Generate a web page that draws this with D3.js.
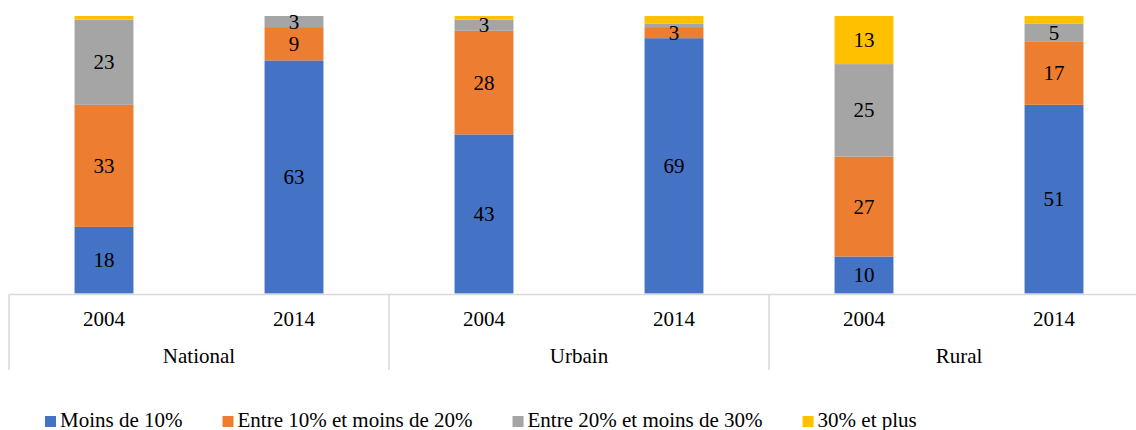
<!DOCTYPE html>
<html>
<head>
<meta charset="utf-8">
<title>Taux par milieu</title>
<script src="https://d3js.org/d3.v7.min.js"></script>
<style>
  body { margin: 0; background: #fff; }
  svg text { font-family: "Liberation Serif", "Times New Roman", serif; fill: #000; }
</style>
</head>
<body>
<div id="chart"></div>
<script>
var svg_width = 1136, svg_height = 430;

// data
var groups = ["National", "Urbain", "Rural"];
var years = ["2004", "2014"];
var series = ["Moins de 10%", "Entre 10% et moins de 20%", "Entre 20% et moins de 30%", "30% et plus"];
var colors = ["#4472C4", "#ED7D31", "#A5A5A5", "#FFC000"];
// one value per bar: National 2004, National 2014, Urbain 2004, Urbain 2014, Rural 2004, Rural 2014
var moins10 = [18, 63, 43, 69, 10, 51];
var entre10_20 = [33, 9, 28, 3, 27, 17];
var entre20_30 = [23, 3, 3, 1, 25, 5];
var plus30 = [1, 0, 1, 2, 13, 2];

var values = [moins10, entre10_20, entre20_30, plus30];
var bars = [];
groups.forEach(function(g, gi) {
  years.forEach(function(y, yi) {
    var i = gi * years.length + yi;
    var row = { key: g + "|" + y, group: g, year: y };
    series.forEach(function(s, si) { row[s] = values[si][i]; });
    bars.push(row);
  });
});

var plot_left = 9, plot_right = 1149, plot_top = 16, plot_bottom = 293.5;

var svg = d3.select("#chart").append("svg")
  .attr("width", svg_width)
  .attr("height", svg_height);

var x = d3.scaleBand()
  .domain(bars.map(function(d) { return d.key; }))
  .range([plot_left, plot_right])
  .paddingInner(0.69)
  .paddingOuter(0.345);

var xg = d3.scaleBand()
  .domain(groups)
  .range([plot_left, plot_right]);

var y = d3.scaleLinear()
  .domain([0, 75])
  .range([plot_bottom, plot_top]);

var stack = d3.stack().keys(series);
var layers = stack(bars);

var layer = svg.selectAll(".layer")
  .data(layers)
  .enter().append("g")
  .attr("class", "layer")
  .attr("fill", function(d, i) { return colors[i]; });

layer.selectAll("rect")
  .data(function(d) { return d; })
  .enter().append("rect")
  .attr("x", function(d) { return x(d.data.key); })
  .attr("width", x.bandwidth())
  .attr("y", function(d) { return y(d[1]); })
  .attr("height", function(d) { return y(d[0]) - y(d[1]); });

// value labels (small slices have none)
var labels = svg.append("g").attr("class", "labels");
layers.forEach(function(l) {
  labels.selectAll(null)
    .data(l.filter(function(p) { return p[1] - p[0] >= 3; }))
    .enter().append("text")
    .attr("x", function(d) { return x(d.data.key) + x.bandwidth() / 2; })
    .attr("y", function(d) { return (y(d[0]) + y(d[1])) / 2; })
    .attr("text-anchor", "middle")
    .attr("dominant-baseline", "central")
    .style("font-size", "21px")
    .text(function(d) { return d[1] - d[0]; });
});

// category axis with two levels
var axis = svg.append("g").attr("class", "axis");
axis.append("line")
  .attr("x1", plot_left).attr("x2", plot_right)
  .attr("y1", 294.5).attr("y2", 294.5)
  .attr("stroke", "#d9d9d9")
  .attr("stroke-width", 1.5);

var seps = groups.map(function(g) { return xg(g); }).concat([plot_right]);
axis.selectAll(".sep")
  .data(seps)
  .enter().append("line")
  .attr("class", "sep")
  .attr("x1", function(d) { return d; }).attr("x2", function(d) { return d; })
  .attr("y1", 294.5).attr("y2", 370)
  .attr("stroke", "#d9d9d9")
  .attr("stroke-width", 1.5);

axis.selectAll(".year")
  .data(bars)
  .enter().append("text")
  .attr("class", "year")
  .attr("x", function(d) { return x(d.key) + x.bandwidth() / 2; })
  .attr("y", 326)
  .attr("text-anchor", "middle")
  .style("font-size", "21px")
  .text(function(d) { return d.year; });

axis.selectAll(".grp")
  .data(groups)
  .enter().append("text")
  .attr("class", "grp")
  .attr("x", function(d) { return xg(d) + xg.bandwidth() / 2; })
  .attr("y", 363)
  .attr("text-anchor", "middle")
  .style("font-size", "21px")
  .text(function(d) { return d; });

// legend
var legend = svg.append("g").attr("class", "legend");
var lx = 45;
series.forEach(function(s, i) {
  legend.append("rect")
    .attr("x", lx).attr("y", 416)
    .attr("width", 11).attr("height", 11)
    .attr("fill", colors[i]);
  var t = legend.append("text")
    .attr("x", lx + 15)
    .attr("y", 427)
    .style("font-size", "21px")
    .text(s);
  lx += 15 + t.node().getComputedTextLength() + 40;
});
</script>
</body>
</html>
